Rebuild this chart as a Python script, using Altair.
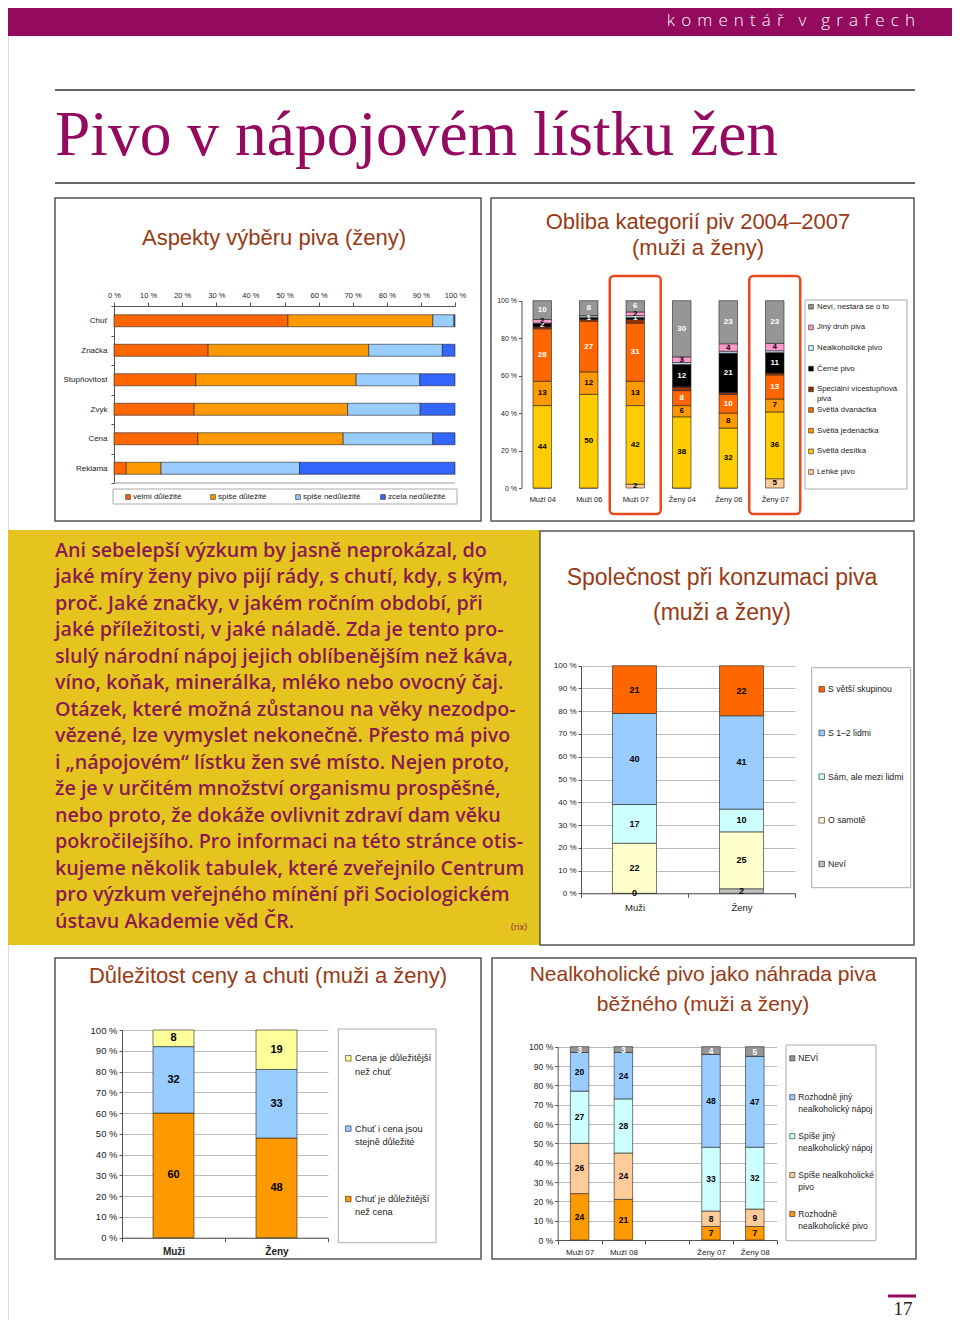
import altair as alt
import pandas as pd

# ------------------------------------------------------------------ data
aspect_categories = ["Chuť", "Značka", "Stupňovitost", "Zvyk", "Cena", "Reklama"]
aspect_levels = ["velmi důležité", "spiše důležité", "spiše nedůležité", "zcela nedůležité"]
aspect_velmi = [51.0, 27.6, 24.0, 23.5, 24.6, 3.6]
aspect_spise_dulezite = [42.5, 47.1, 47.0, 45.0, 42.6, 10.2]
aspect_spise_nedulezite = [6.2, 21.6, 18.7, 21.3, 26.3, 40.6]
aspect_zcela = [0.3, 3.7, 10.3, 10.2, 6.5, 45.6]
aspect_ticks = [0, 10, 20, 30, 40, 50, 60, 70, 80, 90, 100]

beer_groups = ["Muži 04", "Muži 06", "Muži 07", "Ženy 04", "Ženy 06", "Ženy 07"]
beer_highlight = ["Muži 07", "Ženy 07"]
beer_series = ["Lehké pivo", "Světlá desítka", "Světlá jedenáctka", "Světlá dvanáctka",
               "Speciální vícestupňová piva", "Černé pivo", "Nealkoholické pivo",
               "Jiný druh piva", "Neví, nestará se o to"]
beer_lehke = [0, 0, 2, 0, 0, 5]
beer_desitka = [44, 50, 42, 38, 32, 36]
beer_jedenactka = [13, 12, 13, 6, 8, 7]
beer_dvanactka = [28, 27, 31, 8, 10, 13]
beer_specialni = [1, 1, 2, 2, 1, 1]
beer_cerne = [2, 1, 1, 12, 21, 11]
beer_nealko = [0, 1, 1, 1, 1, 1]
beer_jiny = [2, 0, 2, 3, 4, 4]
beer_nevi = [10, 8, 6, 30, 23, 23]
beer_unlabelled = ["Speciální vícestupňová piva", "Nealkoholické pivo"]
beer_legend_labels = ["Neví, nestará se o to", "Jiný druh piva", "Nealkoholické pivo", "Černé pivo",
                      "Speciální vícestupňová\npiva", "Světlá dvanáctka", "Světlá jedenáctka",
                      "Světlá desítka", "Lehké pivo"]
percent_ticks_20 = [0, 20, 40, 60, 80, 100]
percent_ticks_10 = [0, 10, 20, 30, 40, 50, 60, 70, 80, 90, 100]

company_groups = ["Muži", "Ženy"]
company_series = ["Neví", "O samotě", "Sám, ale mezi lidmi", "S 1–2 lidmi", "S větší skupinou"]
company_nevi = [0, 2]
company_samote = [22, 25]
company_sam_mezi_lidmi = [17, 10]
company_1_2_lidmi = [40, 41]
company_skupina = [21, 22]
company_legend_labels = ["S větší skupinou", "S 1–2 lidmi", "Sám, ale mezi lidmi", "O samotě", "Neví"]

price_groups = ["Muži", "Ženy"]
price_series = ["Chuť je důležitější než cena", "Chuť i cena jsou stejně důležité",
                "Cena je důležitější než chuť"]
price_chut = [60, 48]
price_stejne = [32, 33]
price_cena = [8, 19]
price_legend_labels = ["Cena je důležitější\nnež chuť", "Chuť i cena jsou\nstejně důležité",
                       "Chuť je důležitější\nnež cena"]

nealko_axis_groups = ["Muži 07", "Muži 08", " ", "Ženy 07", "Ženy 08"]
nealko_groups = ["Muži 07", "Muži 08", "Ženy 07", "Ženy 08"]
nealko_series = ["Rozhodně nealkoholické pivo", "Spíše nealkoholické pivo",
                 "Spíše jiný nealkoholický nápoj", "Rozhodně jiný nealkoholický nápoj", "NEVÍ"]
nealko_rozhodne_pivo = [24, 21, 7, 7]
nealko_spise_pivo = [26, 24, 8, 9]
nealko_spise_jiny = [27, 28, 33, 32]
nealko_rozhodne_jiny = [20, 24, 48, 47]
nealko_nevi = [3, 3, 4, 5]
nealko_legend_labels = ["NEVÍ", "Rozhodně jiný\nnealkoholický nápoj", "Spíše jiný\nnealkoholický nápoj",
                        "Spíše nealkoholické\npivo", "Rozhodně\nnealkoholické pivo"]

intro_lines = [
    "Ani sebelepší výzkum by jasně neprokázal, do",
    "jaké míry ženy pivo pijí rády, s chutí, kdy, s kým,",
    "proč. Jaké značky, v jakém ročním období, při",
    "jaké příležitosti, v jaké náladě. Zda je tento pro-",
    "slulý národní nápoj jejich oblíbenějším než káva,",
    "víno, koňak, minerálka, mléko nebo ovocný čaj.",
    "Otázek, které možná zůstanou na věky nezodpo-",
    "vězené, lze vymyslet nekonečně. Přesto má pivo",
    "i „nápojovém“ lístku žen své místo. Nejen proto,",
    "že je v určitém množství organismu prospěšné,",
    "nebo proto, že dokáže ovlivnit zdraví dam věku",
    "pokročilejšího. Pro informaci na této stránce otis-",
    "kujeme několik tabulek, které zveřejnilo Centrum",
    "pro výzkum veřejného mínění při Sociologickém",
    "ústavu Akademie věd ČR.",
]

# ------------------------------------------------------------------ styles
W, H = 944, 1312
FONT = "Liberation Sans"
PURPLE = "#930A5E"
TITLE_COL = "#993A14"
TEXT_COL = "#8A1A4E"
YELLOW = "#E6C41F"
BORDER = "#555555"
AXIS_COL = "#555555"
GRID_COL = "#AAAAAA"
aspect_colors = ["#FF6600", "#FF9900", "#99CCFF", "#3366FF"]
beer_colors = ["#FFCC99", "#FFCC00", "#FF9900", "#FF6600", "#993300", "#000000", "#CCECFF", "#FF99CC", "#969696"]
beer_text_colors = ["#000000", "#000000", "#000000", "#FFFFFF", "#FFFFFF", "#FFFFFF", "#000000", "#000000", "#FFFFFF"]
company_colors = ["#C0C0C0", "#FFFFCC", "#CCFFFF", "#99CCFF", "#FF6600"]
price_colors = ["#FF9900", "#99CCFF", "#FFFF99"]
nealko_colors = ["#FF9900", "#FFCC99", "#CCFFFF", "#99CCFF", "#969696"]
nealko_text_colors = ["#000000", "#000000", "#000000", "#000000", "#FFFFFF"]


def px(v):
    return v - 8


def py(v):
    return v - 8


ONE = pd.DataFrame({"k": [1]})


def stack_long(groups, series, columns):
    rows = []
    for gi, g in enumerate(groups):
        vals = [col[gi] for col in columns]
        total = float(sum(vals))
        acc = 0.0
        for si, s in enumerate(series):
            v = vals[si]
            start = acc / total * 100
            acc += v
            end = acc / total * 100
            rows.append({"group": g, "series": s, "value": v, "start": start, "end": end,
                         "mid": (start + end) / 2, "label": f"{v:g}"})
    return pd.DataFrame(rows)


def box(x0, y0, x1, y1, fill=None, stroke=BORDER, sw=1.5):
    kw = dict(stroke=stroke, strokeWidth=sw)
    if fill is None:
        kw.update(fill="white", fillOpacity=0)
    else:
        kw.update(fill=fill)
    return alt.Chart(ONE).mark_rect(**kw).encode(
        x=alt.value(px(x0)), x2=alt.value(px(x1)), y=alt.value(py(y0)), y2=alt.value(py(y1)))


def hline(x0, x1, y, color, width):
    return alt.Chart(ONE).mark_rule(color=color, strokeWidth=width).encode(
        x=alt.value(px(x0)), x2=alt.value(px(x1)), y=alt.value(py(y)))


def label(txt, x, y, size, color, font=FONT, align="center", weight="normal", baseline="middle"):
    return alt.Chart(ONE).mark_text(text=txt, font=font, fontSize=size, color=color, align=align,
                                    fontWeight=weight, baseline=baseline).encode(
        x=alt.value(px(x)), y=alt.value(py(y)))


def manual_legend(labels, colors, sq_x, txt_x, y_first, y_last, fs, lh, sq_size):
    def ys():
        return alt.Scale(type="point", domain=labels, range=[py(y_first), py(y_last)], padding=0)
    df = pd.DataFrame({"label": labels})
    sq = alt.Chart(df).mark_square(size=sq_size, opacity=1, stroke="#222", strokeWidth=0.6).encode(
        x=alt.value(px(sq_x)), y=alt.Y("label:N", scale=ys(), axis=None),
        fill=alt.Fill("label:N", scale=alt.Scale(domain=labels, range=colors), legend=None))
    tx = alt.Chart(df).mark_text(align="left", baseline="top", dy=-round(0.45 * fs), lineBreak="\n",
                                 lineHeight=lh, font=FONT, fontSize=fs, color="#222").encode(
        x=alt.value(px(txt_x)), y=alt.Y("label:N", scale=ys(), axis=None), text="label:N")
    return [sq, tx]


def vertical_panel(df, axis_groups, series, colors, text_colors, x0, x1, yb, yt, axis_x, bar_w,
                   ticks, y_lab_size, x_lab_size, x_lab_weight, x_lab_pad, val_size, grid, x_domain,
                   hide=(), keep_zero=False):
    def xs():
        return alt.Scale(type="band", domain=axis_groups, range=[px(x0), px(x1)], paddingInner=0, paddingOuter=0)

    def ys():
        return alt.Scale(domain=[0, 100], range=[py(yb), py(yt)])
    yaxis = alt.Axis(orient="left", offset=-px(axis_x), values=ticks, labelExpr="datum.value + ' %'",
                     title=None, labelFont=FONT, labelFontSize=y_lab_size, labelColor="#222",
                     domainColor=AXIS_COL, domainWidth=1, tickColor=AXIS_COL, tickSize=3, labelPadding=2,
                     grid=grid, gridColor=GRID_COL, gridWidth=0.8)
    xaxis = alt.Axis(orient="bottom", offset=py(yb) - H, title=None, labelFont=FONT,
                     labelFontSize=x_lab_size, labelFontWeight=x_lab_weight, labelColor="#222",
                     labelPadding=x_lab_pad, labelAngle=0, domain=x_domain, domainColor=AXIS_COL,
                     ticks=x_domain, tickColor=AXIS_COL, tickSize=4, tickBand="extent", grid=False)
    bars = alt.Chart(df).mark_bar(width=bar_w, stroke="#222", strokeWidth=0.6).encode(
        x=alt.X("group:N", scale=xs(), axis=xaxis),
        y=alt.Y("start:Q", scale=ys(), axis=yaxis),
        y2="end:Q",
        fill=alt.Fill("series:N", scale=alt.Scale(domain=series, range=colors), legend=None),
    )
    lab = df[~df["series"].isin(list(hide))]
    if not keep_zero:
        lab = lab[lab["value"] > 0]
    texts = alt.Chart(lab).mark_text(font=FONT, fontSize=val_size, fontWeight="bold", baseline="middle").encode(
        x=alt.X("group:N", scale=xs(), axis=None),
        y=alt.Y("mid:Q", scale=ys(), axis=None),
        text="label:N",
        color=alt.Color("series:N", scale=alt.Scale(domain=series, range=text_colors), legend=None),
    )
    return xs, bars, texts


layers = []

# ------------------------------------------------------------------ page decoration
layers.append(box(0, 0, 960, 36, fill=PURPLE, stroke=PURPLE, sw=0))
header = "\u00a0\u00a0\u200a ".join("\u200a ".join(list(w)) for w in "komentář v grafech".split(" "))
layers.append(label(header, 915, 21, 17, "white", font="Open Sans", align="right", weight=300))
layers.append(hline(55, 915, 90, "#666666", 2))
layers.append(label("Pivo v nápojovém lístku žen", 55, 155, 63.5, PURPLE, font="Liberation Serif",
                    align="left", baseline="alphabetic"))
layers.append(hline(55, 915, 183, "#666666", 2))

# panel frames
layers.append(box(0, 530, 540, 945, fill=YELLOW, stroke=YELLOW, sw=0))
layers.append(box(55, 198, 481, 521))
layers.append(box(491, 198, 914, 521))
layers.append(box(540, 531, 914, 945))
layers.append(box(55, 958, 481, 1259))
layers.append(box(492, 958, 916, 1259))

# panel titles
layers.append(label("Aspekty výběru piva (ženy)", 274, 238, 22, TITLE_COL))
layers.append(label("Obliba kategorií piv 2004–2007", 698, 222, 22, TITLE_COL))
layers.append(label("(muži a ženy)", 698, 248, 22, TITLE_COL))
layers.append(label("Společnost při konzumaci piva", 722, 578, 23, TITLE_COL))
layers.append(label("(muži a ženy)", 722, 613, 23, TITLE_COL))
layers.append(label("Důležitost ceny a chuti (muži a ženy)", 268, 976, 22, TITLE_COL))
layers.append(label("Nealkoholické pivo jako náhrada piva", 703, 975, 21, TITLE_COL))
layers.append(label("běžného (muži a ženy)", 703, 1005, 21, TITLE_COL))

# intro text
intro_df = pd.DataFrame({"i": list(range(len(intro_lines))), "line": intro_lines})
intro = alt.Chart(intro_df).mark_text(align="left", baseline="middle", font="Open Sans", fontWeight=600,
                                      fontSize=19.7, color=TEXT_COL).encode(
    x=alt.value(px(55)),
    y=alt.Y("i:O", scale=alt.Scale(type="point", domain=list(range(len(intro_lines))),
                                   range=[py(550.7), py(921.7)], padding=0), axis=None),
    text="line:N")
layers.append(intro)
layers.append(label("(rix)", 527, 927, 9, TEXT_COL, font="Open Sans", align="right"))

# page number
layers.append(hline(888, 916, 1296, PURPLE, 3))
layers.append(label("17", 903, 1309, 19, "#222222", font="Liberation Serif"))

# ------------------------------------------------------------------ panel 1
df1 = stack_long(aspect_categories, aspect_levels,
                 [aspect_velmi, aspect_spise_dulezite, aspect_spise_nedulezite, aspect_zcela])
x1s = alt.Scale(domain=[0, 100], range=[px(114), px(455)])
y1s = alt.Scale(type="band", domain=aspect_categories, range=[py(306), py(483)], paddingInner=0, paddingOuter=0)
bars1 = alt.Chart(df1).mark_bar(size=12, stroke="#222", strokeWidth=0.6).encode(
    x=alt.X("start:Q", scale=x1s, axis=alt.Axis(
        orient="top", offset=-py(306), values=aspect_ticks, labelExpr="datum.value + ' %'", title=None,
        labelFont=FONT, labelFontSize=7.5, labelColor="#222", labelFlush=False, domainColor=AXIS_COL,
        tickColor=AXIS_COL, tickSize=4, labelPadding=3, grid=False)),
    x2="end:Q",
    y=alt.Y("group:N", scale=y1s, axis=alt.Axis(
        orient="left", offset=-px(114), title=None, labelFont=FONT, labelFontSize=8, labelColor="#222",
        domainColor=AXIS_COL, tickColor=AXIS_COL, tickSize=3, tickBand="extent", labelPadding=4, grid=False)),
    fill=alt.Fill("series:N", scale=alt.Scale(domain=aspect_levels, range=aspect_colors), legend=None),
)
layers.append(bars1)
layers.append(hline(114, 455, 483, "#999999", 1))
# legend panel 1
layers.append(box(113, 489, 457, 504, stroke="#AAAAAA", sw=1))
leg1_df = pd.DataFrame({"label": aspect_levels})


def leg1_x():
    return alt.Scale(type="point", domain=aspect_levels, range=[px(128), px(383)], padding=0)


leg1_sq = alt.Chart(leg1_df).mark_square(size=22, opacity=1, stroke="#222", strokeWidth=0.6).encode(
    x=alt.X("label:N", scale=leg1_x(), axis=None), y=alt.value(py(497)),
    fill=alt.Fill("label:N", scale=alt.Scale(domain=aspect_levels, range=aspect_colors), legend=None))
leg1_tx = alt.Chart(leg1_df).mark_text(align="left", baseline="middle", dx=5, font=FONT, fontSize=8,
                                       color="#222").encode(
    x=alt.X("label:N", scale=leg1_x(), axis=None), y=alt.value(py(497)), text="label:N")
layers += [leg1_sq, leg1_tx]

# ------------------------------------------------------------------ panel 2
df2 = stack_long(beer_groups, beer_series,
                 [beer_lehke, beer_desitka, beer_jedenactka, beer_dvanactka, beer_specialni,
                  beer_cerne, beer_nealko, beer_jiny, beer_nevi])
xs2, bars2, texts2 = vertical_panel(
    df2, beer_groups, beer_series, beer_colors, beer_text_colors, 519, 798, 488, 300.7, 521.5, 18.5,
    percent_ticks_20, 7, 7.5, "normal", 7, 8, False, False, hide=beer_unlabelled)
hl = alt.Chart(pd.DataFrame({"group": beer_highlight})).mark_bar(
    width=51, fillOpacity=0, stroke="#E8491D", strokeWidth=2.5, cornerRadius=4).encode(
    x=alt.X("group:N", scale=xs2(), axis=None), y=alt.value(py(276)), y2=alt.value(py(514)))
layers += [bars2, texts2, hl]
layers.append(box(805, 300, 907, 489, stroke="#AAAAAA", sw=1))
layers += manual_legend(beer_legend_labels, list(reversed(beer_colors)), 811, 817, 306.7, 472, 7.8, 10, 22)

# ------------------------------------------------------------------ panel 3
df3 = stack_long(company_groups, company_series,
                 [company_nevi, company_samote, company_sam_mezi_lidmi, company_1_2_lidmi, company_skupina])
xs3, bars3, texts3 = vertical_panel(
    df3, company_groups, company_series, company_colors, ["#000000"] * 5, 581, 795, 893.3, 665.7, 581, 44,
    percent_ticks_10, 8, 9.5, "normal", 5, 9, True, True, keep_zero=True)
layers += [bars3, texts3]
layers.append(box(811.7, 667.7, 910.7, 887.7, stroke="#AAAAAA", sw=1))
layers += manual_legend(company_legend_labels, list(reversed(company_colors)), 821.7, 828, 689.3, 864,
                        8.7, 11, 30)

# ------------------------------------------------------------------ panel 4
df4 = stack_long(price_groups, price_series, [price_chut, price_stejne, price_cena])
xs4, bars4, texts4 = vertical_panel(
    df4, price_groups, price_series, price_colors, ["#000000"] * 3, 122, 328, 1237.7, 1030, 122, 41,
    percent_ticks_10, 9.5, 10, "bold", 5, 11, True, True)
layers += [bars4, texts4]
layers.append(box(338.3, 1029, 436, 1242.7, stroke="#AAAAAA", sw=1))
layers += manual_legend(price_legend_labels, list(reversed(price_colors)), 348.3, 355, 1058.3, 1199,
                        9.3, 13.4, 30)

# ------------------------------------------------------------------ panel 5
df5 = stack_long(nealko_groups, nealko_series,
                 [nealko_rozhodne_pivo, nealko_spise_pivo, nealko_spise_jiny, nealko_rozhodne_jiny, nealko_nevi])
xs5, bars5, texts5 = vertical_panel(
    df5, nealko_axis_groups, nealko_series, nealko_colors, nealko_text_colors, 557.7, 776.7, 1240, 1046.7,
    557.7, 18.5, percent_ticks_10, 8.5, 8, "normal", 4, 8.5, True, True)
layers += [bars5, texts5]
layers.append(box(786, 1045, 876, 1240.7, stroke="#AAAAAA", sw=1))
layers += manual_legend(nealko_legend_labels, list(reversed(nealko_colors)), 792.3, 798.3, 1058.3, 1214,
                        8.5, 11.5, 26)

# ------------------------------------------------------------------ assemble
chart = alt.layer(*layers).resolve_scale(
    x="independent", y="independent", fill="independent", color="independent"
).properties(
    width=W, height=H, autosize=alt.AutoSizeParams(type="none"), padding=0
).configure_view(strokeWidth=0).configure(background="white")

chart.save("out.html", embed_options={"renderer": "svg", "actions": False})
